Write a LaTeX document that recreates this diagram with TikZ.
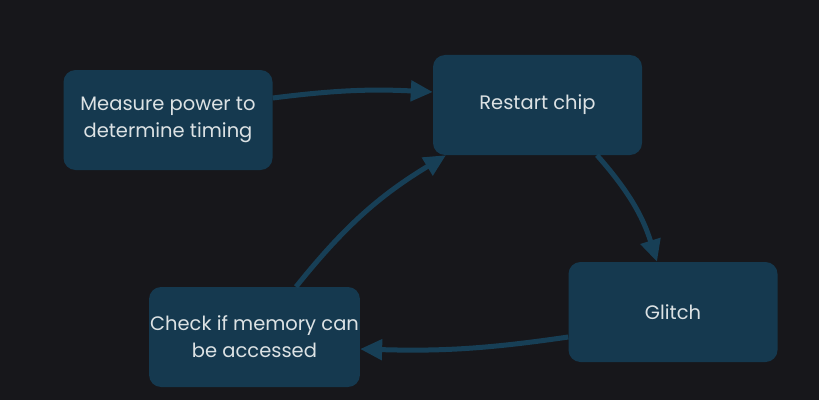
\documentclass[tikz,border=0pt]{standalone}
\usepackage{fontspec}
\setmainfont{Poppins}
\usepackage{tikz}
\usetikzlibrary{positioning,arrows.meta}
\definecolor{bgDark}{HTML}{17171B}
\definecolor{boxTeal}{HTML}{15394F}
\definecolor{lineTeal}{HTML}{173F56}
\definecolor{txtLight}{HTML}{DCE2E4}
\tikzset{
    base/.style={font=\fontsize{19.5}{27}\selectfont, align=center, text=txtLight},
    stage/.style={base, rectangle, rounded corners=12pt, fill=boxTeal,
                  minimum width=209pt, minimum height=100pt, inner sep=1pt},
    flow/.style={-{Triangle[length=22pt,width=20pt]}, line width=5pt, color=lineTeal}
}

\begin{document}
\begin{tikzpicture}[x=1pt,y=1pt]
  % background
  \fill[bgDark] (0,0) rectangle (819,400);
  \useasboundingbox (0,0) rectangle (819,400);

  % stages of the loop
  \node[stage] (measure) at (168,280) {Measure power to\\determine timing};
  \node[stage] (restart) at (537.5,295) {Restart chip};
  \node[stage] (glitch) at (673,88) {Glitch};
  \node[stage] (check) at (254.5,63) {Check if memory can\\be accessed};

  % connectors
  \draw[flow] ([yshift=22pt]measure.east) to[bend left=5] ([yshift=13pt]restart.west);
  \draw[flow] ([xshift=59.5pt]restart.south) to[bend left=12] ([xshift=-16pt]glitch.north);
  \draw[flow] ([yshift=-25pt]glitch.west) to[bend left=5] ([yshift=-12pt]check.east);
  \draw[flow] ([xshift=41.5pt]check.north) to[bend left=10] ([xshift=-91.5pt]restart.south);
\end{tikzpicture}
\end{document}
